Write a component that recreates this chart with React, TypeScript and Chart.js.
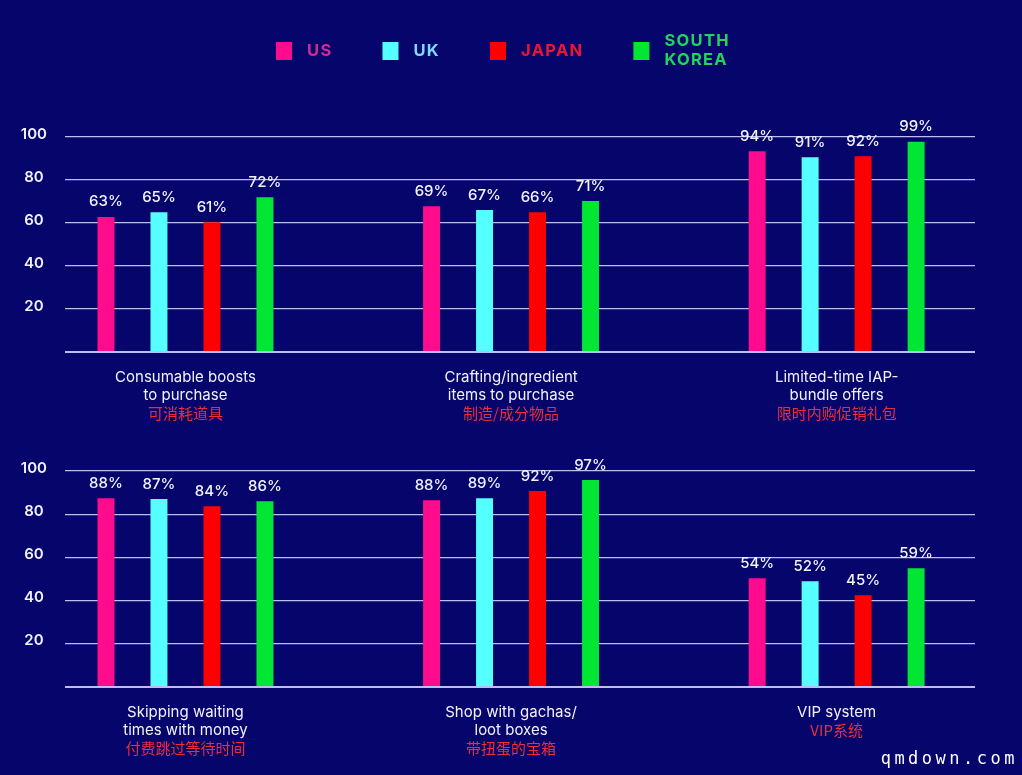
import React, { useEffect, useRef } from "react";
import { Chart, registerables } from "chart.js";

Chart.register(...registerables);

// ---------- data ----------
const SERIES = ["US", "UK", "JAPAN", "SOUTH KOREA"];
const LEGEND_LINES = [["US"], ["UK"], ["JAPAN"], ["SOUTH", "KOREA"]];
const BAR_COLORS = ["#ff0b8e", "#55ffff", "#ff0000", "#00e633"];
const LEGEND_TEXT_COLORS = ["#d42a92", "#80d8ff", "#ee1530", "#22d35c"];

const TOP_CATEGORIES_EN = [
  ["Consumable boosts", "to purchase"],
  ["Crafting/ingredient", "items to purchase"],
  ["Limited-time IAP-", "bundle offers"],
];
const TOP_CATEGORIES_ZH = ["可消耗道具", "制造/成分物品", "限时内购促销礼包"];
const BOTTOM_CATEGORIES_EN = [
  ["Skipping waiting", "times with money"],
  ["Shop with gachas/", "loot boxes"],
  ["VIP system"],
];
const BOTTOM_CATEGORIES_ZH = ["付费跳过等待时间", "带扭蛋的宝箱", "VIP系统"];

// bar heights as drawn
const TOP_US = [62.8, 67.8, 93.4];
const TOP_UK = [65.0, 66.0, 90.6];
const TOP_JP = [60.4, 65.0, 91.0];
const TOP_KR = [72.0, 70.2, 97.8];
const BOTTOM_US = [87.4, 86.5, 50.4];
const BOTTOM_UK = [87.0, 87.4, 49.0];
const BOTTOM_JP = [83.7, 90.7, 42.5];
const BOTTOM_KR = [86.0, 95.8, 55.0];

// printed percentages
const TOP_US_LABELS = [63, 69, 94];
const TOP_UK_LABELS = [65, 67, 91];
const TOP_JP_LABELS = [61, 66, 92];
const TOP_KR_LABELS = [72, 71, 99];
const BOTTOM_US_LABELS = [88, 88, 54];
const BOTTOM_UK_LABELS = [87, 89, 52];
const BOTTOM_JP_LABELS = [84, 92, 45];
const BOTTOM_KR_LABELS = [86, 97, 59];

const Y_MIN = 0;
const Y_MAX = 100;
const Y_STEP = 20;

// ---------- style ----------
const BG = "#05056b";
const TEXT = "#f2f2ff";
const ZH_COLOR = "#ec2d3c";
const GRID = "rgba(205,205,255,0.92)";
const FONT = "Inter, 'Open Sans', sans-serif";
const CJK = "'Noto Sans CJK SC', sans-serif";

const valueLabelPlugin = {
  id: "valueLabels",
  afterDatasetsDraw(chart: any) {
    const ctx = chart.ctx;
    ctx.save();
    ctx.font = `500 15px ${FONT}`;
    ctx.fillStyle = TEXT;
    ctx.textAlign = "center";
    ctx.textBaseline = "middle";
    chart.data.datasets.forEach((ds: any, di: number) => {
      const meta = chart.getDatasetMeta(di);
      meta.data.forEach((el: any, i: number) => {
        ctx.fillText(`${ds.printed[i]}%`, el.x, el.y - 15);
      });
    });
    ctx.restore();
  },
};

const legendPlugin = {
  id: "topLegend",
  afterDraw(chart: any) {
    const ctx = chart.ctx;
    ctx.save();
    ctx.font = `700 16.5px ${FONT}`;
    (ctx as any).letterSpacing = "1.3px";
    ctx.textBaseline = "middle";
    ctx.textAlign = "left";
    let x = 276;
    const cy = 51;
    SERIES.forEach((_, i) => {
      ctx.fillStyle = BAR_COLORS[i];
      ctx.fillRect(x, cy - 9, 16, 18);
      const lines = LEGEND_LINES[i];
      ctx.fillStyle = LEGEND_TEXT_COLORS[i];
      let w = 0;
      lines.forEach((ln, li) => {
        const y = cy + (li - (lines.length - 1) / 2) * 19;
        ctx.fillText(ln, x + 31, y);
        w = Math.max(w, ctx.measureText(ln).width);
      });
      x = x + 31 + w + 50;
    });
    ctx.restore();
  },
};

const watermarkPlugin = {
  id: "watermark",
  afterDraw(chart: any) {
    const ctx = chart.ctx;
    ctx.save();
    ctx.font = `17px 'DejaVu Sans Mono', monospace`;
    (ctx as any).letterSpacing = "3.5px";
    ctx.fillStyle = "#ffffff";
    ctx.textAlign = "right";
    ctx.textBaseline = "middle";
    ctx.fillText("qmdown.com", 1018, chart.height - 15);
    ctx.restore();
  },
};

const AXIS_BLOCK = 88; // height reserved under each panel for category labels

function makeConfig(
  en: string[][],
  zh: string[],
  values: number[][],
  printed: number[][],
  padTop: number,
  extraPlugins: any[]
) {
  const idxTicks = (scale: any) => {
    scale.ticks = en.map((_, i) => ({ value: i }));
  };
  return {
    type: "bar",
    data: {
      datasets: SERIES.map((name, s) => ({
        label: name,
        data: values[s].map((v, i) => ({ x: i, y: v })),
        printed: printed[s],
        backgroundColor: BAR_COLORS[s],
        borderWidth: 0,
        categoryPercentage: 0.651,
        barPercentage: 0.32,
      })),
    },
    options: {
      responsive: false,
      maintainAspectRatio: false,
      animation: false,
      layout: { padding: { top: padTop, right: 47, left: 0, bottom: 0 } },
      plugins: { legend: { display: false }, tooltip: { enabled: false } },
      scales: {
        x: {
          type: "linear",
          min: -0.37,
          max: 2.425,
          offset: false,
          weight: 0,
          afterBuildTicks: idxTicks,
          afterFit: (s: any) => {
            s.height = AXIS_BLOCK;
          },
          grid: { display: false, drawTicks: false },
          border: { display: false },
          ticks: {
            autoSkip: false,
            maxRotation: 0,
            minRotation: 0,
            padding: 16,
            color: TEXT,
            font: { family: FONT, size: 15, lineHeight: 1.2 },
            callback: (v: any) => en[v],
          },
        },
        x2: {
          type: "linear",
          position: "bottom",
          min: -0.37,
          max: 2.425,
          offset: false,
          weight: 1,
          afterBuildTicks: idxTicks,
          afterFit: (s: any) => {
            s.height = 0;
          },
          grid: { display: false, drawTicks: false },
          border: { display: false },
          ticks: {
            autoSkip: false,
            maxRotation: 0,
            minRotation: 0,
            mirror: true,
            padding: AXIS_BLOCK - 16 - 18,
            color: ZH_COLOR,
            font: { family: CJK, size: 15, lineHeight: 1.2 },
            callback: (v: any) => [...en[v].map(() => ""), zh[v]],
          },
        },
        y: {
          min: Y_MIN,
          max: Y_MAX,
          afterFit: (s: any) => {
            s.width = 65;
          },
          border: { display: false },
          grid: {
            color: GRID,
            drawTicks: false,
            lineWidth: (c: any) => (c.tick && c.tick.value === 0 ? 2 : 1.3),
          },
          ticks: {
            stepSize: Y_STEP,
            padding: 18,
            labelOffset: -3,
            crossAlign: "center",
            color: TEXT,
            font: { family: FONT, size: 15, weight: 600 },
            callback: (v: any) => (v === 0 ? "" : String(v)),
          },
        },
      },
    },
    plugins: [valueLabelPlugin, ...extraPlugins],
  } as any;
}

function Panel(props: {
  top: number;
  height: number;
  padTop: number;
  en: string[][];
  zh: string[];
  values: number[][];
  printed: number[][];
  extra: any[];
}) {
  const ref = useRef<HTMLCanvasElement | null>(null);
  useEffect(() => {
    if (!ref.current) return;
    const chart = new Chart(
      ref.current,
      makeConfig(props.en, props.zh, props.values, props.printed, props.padTop, props.extra)
    );
    return () => chart.destroy();
  }, []);
  return (
    <canvas
      ref={ref}
      width={1022}
      height={props.height}
      style={{ position: "absolute", left: 0, top: props.top, width: 1022, height: props.height }}
    />
  );
}

export default function App() {
  return (
    <div
      style={{
        position: "fixed",
        left: 0,
        top: 0,
        width: 1022,
        height: 775,
        background: BG,
        overflow: "hidden",
      }}
    >
      <Panel
        top={0}
        height={440}
        padTop={137}
        en={TOP_CATEGORIES_EN}
        zh={TOP_CATEGORIES_ZH}
        values={[TOP_US, TOP_UK, TOP_JP, TOP_KR]}
        printed={[TOP_US_LABELS, TOP_UK_LABELS, TOP_JP_LABELS, TOP_KR_LABELS]}
        extra={[legendPlugin]}
      />
      <Panel
        top={440}
        height={335}
        padTop={31}
        en={BOTTOM_CATEGORIES_EN}
        zh={BOTTOM_CATEGORIES_ZH}
        values={[BOTTOM_US, BOTTOM_UK, BOTTOM_JP, BOTTOM_KR]}
        printed={[BOTTOM_US_LABELS, BOTTOM_UK_LABELS, BOTTOM_JP_LABELS, BOTTOM_KR_LABELS]}
        extra={[watermarkPlugin]}
      />
    </div>
  );
}
